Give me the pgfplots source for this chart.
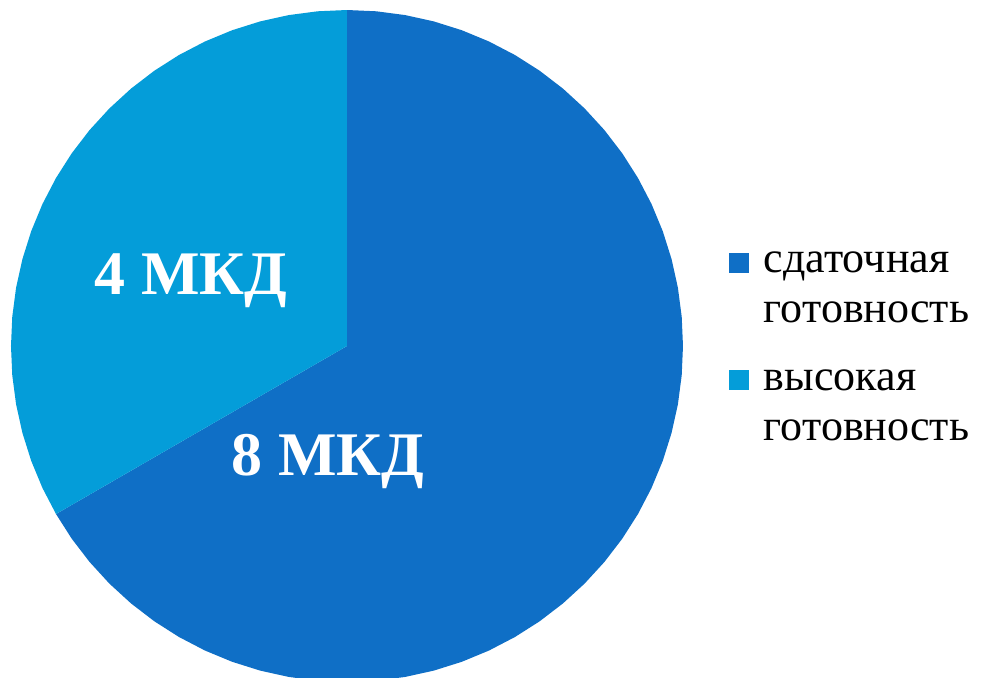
\documentclass[border=0pt]{standalone}
\usepackage{pgfplots}
\pgfplotsset{compat=1.18}
\usepackage{fontspec}
\setmainfont{Liberation Serif}
\definecolor{darkblue}{HTML}{0F6FC6}
\definecolor{lightblue}{HTML}{049DD9}
\newcommand{\twolines}[2]{\vtop{\hbox{#1}\hbox{#2}}}
% values: сдаточная готовность = 8 МКД (240 deg), высокая готовность = 4 МКД (120 deg)
\begin{document}
\begin{tikzpicture}
\begin{axis}[
  x=336bp, y=336bp,
  xmin=-1.0327, xmax=1.8929, ymin=-0.9851, ymax=1.0298,
  hide axis, clip=true,
  legend style={at={(axis cs:1.1369,0.2798)}, anchor=north west, draw=none, fill=none,
    inner sep=0pt, outer sep=0pt, row sep=97bp, column sep=15bp,
    font=\fontsize{44bp}{50bp}\selectfont,
    cells={anchor=base west}, nodes={inner sep=0pt, text depth=0pt}},
  legend image code/.code={\fill[#1] (0bp,0bp) rectangle (20bp,20bp);},
]
\path (rel axis cs:0,0) rectangle (rel axis cs:1,1);
% slice 8 of 12 = 240 degrees, clockwise from 90
\addplot[fill=darkblue, draw=none, data cs=polar] coordinates {
(0,0) (90,1) (85,1) (80,1) (75,1) (70,1) (65,1) (60,1) (55,1) (50,1) (45,1) (40,1)
(35,1) (30,1) (25,1) (20,1) (15,1) (10,1) (5,1) (0,1) (-5,1) (-10,1) (-15,1) (-20,1)
(-25,1) (-30,1) (-35,1) (-40,1) (-45,1) (-50,1) (-55,1) (-60,1) (-65,1) (-70,1)
(-75,1) (-80,1) (-85,1) (-90,1) (-95,1) (-100,1) (-105,1) (-110,1) (-115,1) (-120,1)
(-125,1) (-130,1) (-135,1) (-140,1) (-145,1) (-150,1) (0,0)};
\addlegendentry{\twolines{сдаточная}{готовность}}
% slice 4 of 12 = 120 degrees, counter-clockwise from 90
\addplot[fill=lightblue, draw=none, data cs=polar] coordinates {
(0,0) (90,1) (95,1) (100,1) (105,1) (110,1) (115,1) (120,1) (125,1) (130,1) (135,1)
(140,1) (145,1) (150,1) (155,1) (160,1) (165,1) (170,1) (175,1) (180,1) (185,1)
(190,1) (195,1) (200,1) (205,1) (210,1) (0,0)};
\addlegendentry{\twolines{высокая}{готовность}}
\node[font=\bfseries\fontsize{62bp}{62bp}\selectfont, text=white, anchor=base] at (axis cs:-0.464,0.152) {4 МКД};
\node[font=\bfseries\fontsize{62bp}{62bp}\selectfont, text=white, anchor=base] at (axis cs:-0.057,-0.384) {8 МКД};
\end{axis}
\end{tikzpicture}
\end{document}
